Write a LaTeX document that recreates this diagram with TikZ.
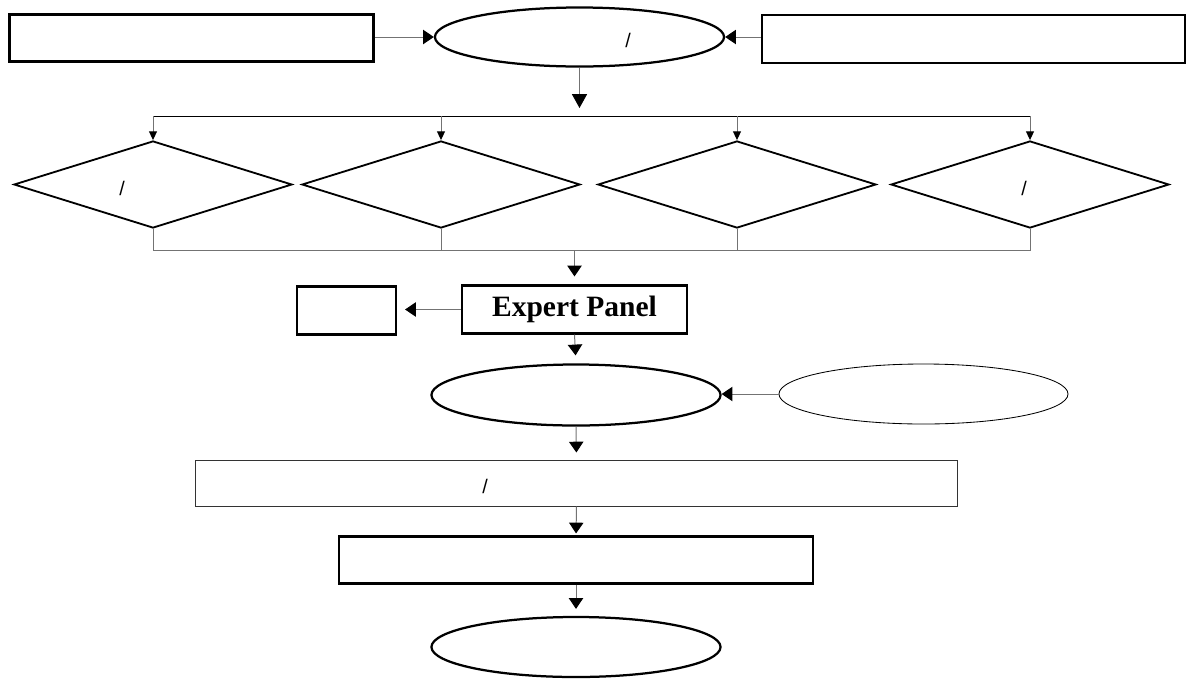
\documentclass[tikz,border=0pt]{standalone}
\usepackage{fontspec}
\setmainfont{Liberation Serif}
\newfontfamily\slashfont{Liberation Sans}
\usepackage{tikz}
\usetikzlibrary{positioning,arrows.meta,shapes.geometric}

\begin{document}
\begin{tikzpicture}[x=0.025cm, y=-0.025cm,
    box/.style={draw, line width=1.5pt, inner sep=0pt},
    thinbox/.style={draw=black!80, line width=0.7pt, inner sep=0pt},
    oval/.style={ellipse, draw, line width=1.6pt, inner sep=0pt,
                 minimum width=7.225cm},
    thinoval/.style={ellipse, draw, line width=0.6pt, inner sep=0pt,
                 minimum width=7.225cm},
    choice/.style={diamond, draw, line width=1.3pt, inner sep=0pt,
                   minimum width=6.95cm, minimum height=2.175cm},
    slash/.style={font=\slashfont\fontsize{14}{16}\selectfont, inner sep=0pt},
    conn/.style={draw=black!55, line width=0.7pt},
    arr/.style={conn, -{Triangle[length=0.27cm, width=0.36cm, color=black]}},
    bigarr/.style={conn, -{Triangle[length=0.35cm, width=0.38cm, color=black]}},
    smallarr/.style={conn, -{Triangle[length=0.22cm, width=0.2cm, color=black]}},
]
\useasboundingbox (0,0) rectangle (1186,679);

\node[box, minimum width=9.1cm, minimum height=1.175cm] (src1) at (191.5,38) {};
\node[oval, minimum height=1.475cm] (pool) at (579.5,37) {};
\node[box, minimum width=10.575cm, minimum height=1.2cm] (src2) at (973.5,39) {};
\node[slash] (poolsl) at (628,40) {/};

\draw[arr] (src1.east |- pool.west) -- (pool.west);
\draw[arr] (src2.west |- pool.east) -- (pool.east);
\coordinate (pooldrop) at (579.5,108);
\draw[bigarr] (pool.south) -- (pooldrop);

\node[choice] (c1) at (153,184.5) {};
\node[choice] (c2) at (441,184.5) {};
\node[choice] (c3) at (737,184.5) {};
\node[choice] (c4) at (1030,184.5) {};
\node[slash] (c1sl) at (122,188) {/};
\node[slash] (c4sl) at (1024,188) {/};

\coordinate (topbusL) at (153,116);
\coordinate (topbusR) at (1030,116);
\draw[line width=0.7pt] (topbusL) -- (topbusR);
\foreach \c in {c1,c2,c3,c4}
    \draw[smallarr] (\c.north |- topbusL) -- (\c.north);

\coordinate (lowbusL) at (153,250.5);
\coordinate (lowbusR) at (1030,250.5);
\foreach \c in {c1,c2,c3,c4}
    \draw[conn] (\c.south) -- (\c.south |- lowbusL);
\draw[conn] (lowbusL) -- (lowbusR);

\node[box, minimum width=5.625cm, minimum height=1.2cm,
      font=\fontsize{21}{25}\selectfont\bfseries] (panel) at (574.5,309.5) {Expert Panel};
\node[box, minimum width=2.475cm, minimum height=1.2cm] (side) at (346.5,310.5) {};
\draw[arr, shorten >=0.2cm] (panel.north |- lowbusL) -- (panel.north);
\draw[arr, shorten >=0.2cm] (panel.west) -- (panel.west -| side.east);

\node[oval, minimum height=1.525cm] (merge) at (576,395) {};
\node[thinoval, minimum height=1.5cm] (extra) at (923.5,394) {};
\draw[arr, shorten >=0.2cm] (panel.south) -- (merge.north);
\draw[arr] (extra.west) -- (extra.west -| merge.east);

\node[thinbox, minimum width=19.025cm, minimum height=1.15cm] (wide) at (576.5,483) {};
\node[slash] (widesl) at (485,486) {/};
\node[box, minimum width=11.825cm, minimum height=1.175cm] (mid) at (576,560) {};
\node[oval, minimum height=1.5cm] (final) at (576,647) {};
\draw[arr, shorten >=0.175cm] (merge.south) -- (wide.north);
\draw[arr, shorten >=0.05cm] (wide.south) -- (mid.north);
\draw[arr, shorten >=0.175cm] (mid.south) -- (final.north);
\end{tikzpicture}
\end{document}
